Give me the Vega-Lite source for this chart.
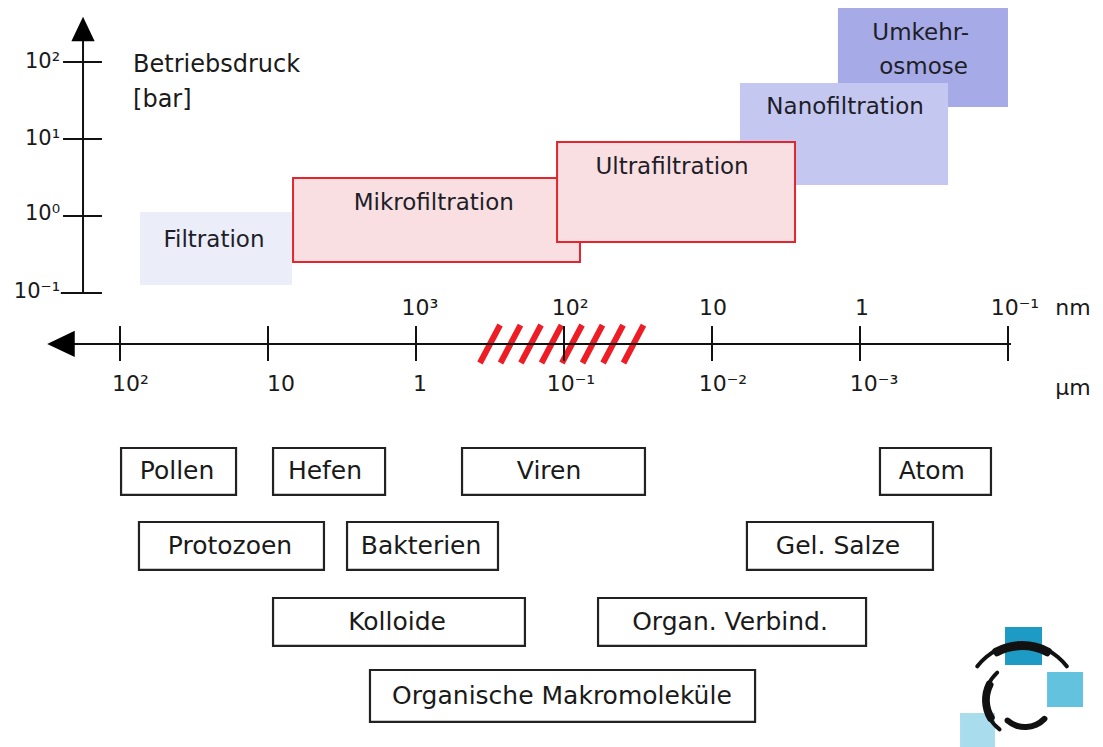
{
  "$schema": "https://vega.github.io/schema/vega-lite/v6.json",
  "width": 1103,
  "height": 747,
  "autosize": {"type": "fit", "contains": "padding"},
  "padding": 0,
  "background": "white",
  "config": {"view": {"stroke": null}, "text": {"font": "DejaVu Sans", "color": "#1a1a1a", "baseline": "middle"}},
  "datasets": {
    "regions": [
      {"name": "Filtration", "x1": 1.865, "x2": 0.838, "y1": 0.052, "y2": -0.896},
      {"name": "Umkehrosmose", "x1": -2.851, "x2": -4.0, "y1": 2.701, "y2": 1.416},
      {"name": "Nanofiltration", "x1": -2.189, "x2": -3.595, "y1": 1.727, "y2": 0.403},
      {"name": "Mikrofiltration", "x1": 0.831, "x2": -1.108, "y1": 0.494, "y2": -0.597},
      {"name": "Ultrafiltration", "x1": -0.953, "x2": -2.561, "y1": 0.961, "y2": -0.338}
    ],
    "regionLabels": [
      {"label": "Filtration", "x": 1.365, "y": -0.312},
      {"label": "Mikrofiltration", "x": -0.12, "y": 0.174},
      {"label": "Ultrafiltration", "x": -1.73, "y": 0.636},
      {"label": "Nanofiltration", "x": -2.899, "y": 1.416},
      {"label": "Umkehr-", "x": -3.41, "y": 2.377},
      {"label": "osmose", "x": -3.43, "y": 1.935}
    ],
    "stripes": [
      {"x": -0.432, "x2": -0.568, "y": -1.909, "y2": -1.416},
      {"x": -0.571, "x2": -0.706, "y": -1.909, "y2": -1.416},
      {"x": -0.709, "x2": -0.845, "y": -1.909, "y2": -1.416},
      {"x": -0.848, "x2": -0.983, "y": -1.909, "y2": -1.416},
      {"x": -0.986, "x2": -1.122, "y": -1.909, "y2": -1.416},
      {"x": -1.125, "x2": -1.26, "y": -1.909, "y2": -1.416},
      {"x": -1.264, "x2": -1.399, "y": -1.909, "y2": -1.416},
      {"x": -1.402, "x2": -1.537, "y": -1.909, "y2": -1.416}
    ],
    "lines": [
      {"x": 2.25, "x2": 2.25, "y": -1.0, "y2": 2.35},
      {"x": 2.4, "x2": -4.02, "y": -1.662, "y2": -1.662},
      {"x": 2.385, "x2": 2.122, "y": 2, "y2": 2},
      {"x": 2.385, "x2": 2.122, "y": 1, "y2": 1},
      {"x": 2.385, "x2": 2.122, "y": 0, "y2": 0},
      {"x": 2.4, "x2": 2.122, "y": -1, "y2": -1},
      {"x": 2, "x2": 2, "y": -1.429, "y2": -1.883},
      {"x": 1, "x2": 1, "y": -1.429, "y2": -1.883},
      {"x": 0, "x2": 0, "y": -1.429, "y2": -1.883},
      {"x": -1, "x2": -1, "y": -1.429, "y2": -1.883},
      {"x": -2, "x2": -2, "y": -1.429, "y2": -1.883},
      {"x": -3, "x2": -3, "y": -1.429, "y2": -1.883},
      {"x": -4, "x2": -4, "y": -1.429, "y2": -1.883}
    ],
    "arrows": [
      {"dir": "up", "x": 2.25, "y": 2.429},
      {"dir": "left", "x": 2.399, "y": -1.662}
    ],
    "pressureLabels": [
      {"label": "10²", "x": 2.405, "y": 2.0},
      {"label": "10¹", "x": 2.405, "y": 1.0},
      {"label": "10⁰", "x": 2.405, "y": 0.02},
      {"label": "10⁻¹", "x": 2.405, "y": -0.99}
    ],
    "titleLabels": [
      {"label": "Betriebsdruck", "x": 1.912, "y": 1.961},
      {"label": "[bar]", "x": 1.912, "y": 1.506}
    ],
    "sizeLabels": [
      {"label": "10²", "x": 1.929, "y": -2.182},
      {"label": "10", "x": 0.912, "y": -2.182},
      {"label": "1", "x": -0.027, "y": -2.182},
      {"label": "10⁻¹", "x": -1.047, "y": -2.182},
      {"label": "10⁻²", "x": -2.074, "y": -2.182},
      {"label": "10⁻³", "x": -3.095, "y": -2.182},
      {"label": "µm", "x": -4.439, "y": -2.234},
      {"label": "10³", "x": -0.027, "y": -1.195},
      {"label": "10²", "x": -1.041, "y": -1.195},
      {"label": "10", "x": -2.007, "y": -1.195},
      {"label": "1", "x": -3.014, "y": -1.195},
      {"label": "10⁻¹", "x": -4.047, "y": -1.195},
      {"label": "nm", "x": -4.439, "y": -1.195}
    ],
    "boxes": [
      {"label": "Pollen", "x1": 1.993, "x2": 1.216, "y1": -3.013, "y2": -3.623, "cx": 1.615, "cy": -3.318},
      {"label": "Hefen", "x1": 0.966, "x2": 0.209, "y1": -3.013, "y2": -3.623, "cx": 0.615, "cy": -3.318},
      {"label": "Viren", "x1": -0.311, "x2": -1.547, "y1": -3.013, "y2": -3.623, "cx": -0.899, "cy": -3.318},
      {"label": "Atom", "x1": -3.135, "x2": -3.885, "y1": -3.013, "y2": -3.623, "cx": -3.486, "cy": -3.318},
      {"label": "Protozoen", "x1": 1.872, "x2": 0.622, "y1": -3.974, "y2": -4.597, "cx": 1.257, "cy": -4.286},
      {"label": "Bakterien", "x1": 0.466, "x2": -0.554, "y1": -3.974, "y2": -4.597, "cx": -0.034, "cy": -4.286},
      {"label": "Gel. Salze", "x1": -2.236, "x2": -3.493, "y1": -3.974, "y2": -4.597, "cx": -2.851, "cy": -4.286},
      {"label": "Kolloide", "x1": 0.966, "x2": -0.736, "y1": -4.961, "y2": -5.584, "cx": 0.128, "cy": -5.273},
      {"label": "Organ. Verbind.", "x1": -1.23, "x2": -3.041, "y1": -4.961, "y2": -5.584, "cx": -2.122, "cy": -5.273},
      {"label": "Organische Makromoleküle", "x1": 0.311, "x2": -2.291, "y1": -5.896, "y2": -6.571, "cx": -0.986, "cy": -6.234}
    ],
    "logoSquares": [
      {"name": "a", "x1": -3.98, "x2": -4.23, "y1": -5.338, "y2": -5.831},
      {"name": "b", "x1": -4.264, "x2": -4.507, "y1": -5.922, "y2": -6.377},
      {"name": "c", "x1": -3.676, "x2": -3.912, "y1": -6.455, "y2": -6.896}
    ],
    "logoCenters": [
      {"part": "top", "x": -4.095, "y": -6.286},
      {"part": "left", "x": -4.095, "y": -6.286},
      {"part": "bottom", "x": -4.115, "y": -6.286}
    ]
  },
  "resolve": {"scale": {"color": "independent"}},
  "layer": [
    {
      "data": {"name": "regions"},
      "transform": [{"filter": {"field": "name", "oneOf": ["Filtration", "Umkehrosmose", "Nanofiltration"]}}],
      "mark": {"type": "rect"},
      "encoding": {
        "x": {"field": "x1", "type": "quantitative", "scale": {"domain": [-4.642, 2.811], "reverse": true, "nice": false, "zero": false}, "axis": null},
        "x2": {"field": "x2"},
        "y": {"field": "y1", "type": "quantitative", "scale": {"domain": [-6.896, 2.805], "nice": false, "zero": false}, "axis": null},
        "y2": {"field": "y2"},
        "color": {"field": "name", "type": "nominal", "scale": {"domain": ["Filtration", "Umkehrosmose", "Nanofiltration"], "range": ["#ebedf9", "#a6aae7", "#c4c7f0"]}, "legend": null}
      }
    },
    {
      "data": {"name": "regions"},
      "transform": [{"filter": {"field": "name", "oneOf": ["Mikrofiltration", "Ultrafiltration"]}}],
      "mark": {"type": "rect", "fill": "#f9dfe2", "stroke": "#e3262e", "strokeWidth": 2},
      "encoding": {
        "x": {"field": "x1", "type": "quantitative", "scale": {"domain": [-4.642, 2.811], "reverse": true, "nice": false, "zero": false}, "axis": null},
        "x2": {"field": "x2"},
        "y": {"field": "y1", "type": "quantitative", "scale": {"domain": [-6.896, 2.805], "nice": false, "zero": false}, "axis": null},
        "y2": {"field": "y2"}
      }
    },
    {
      "data": {"name": "regionLabels"},
      "mark": {"type": "text", "fontSize": 23, "align": "center", "color": "#1e1e28"},
      "encoding": {
        "x": {"field": "x", "type": "quantitative", "scale": {"domain": [-4.642, 2.811], "reverse": true, "nice": false, "zero": false}, "axis": null},
        "y": {"field": "y", "type": "quantitative", "scale": {"domain": [-6.896, 2.805], "nice": false, "zero": false}, "axis": null},
        "text": {"field": "label"}
      }
    },
    {
      "data": {"name": "stripes"},
      "mark": {"type": "rule", "color": "#ee1c25", "strokeWidth": 6},
      "encoding": {
        "x": {"field": "x", "type": "quantitative", "scale": {"domain": [-4.642, 2.811], "reverse": true, "nice": false, "zero": false}, "axis": null},
        "x2": {"field": "x2"},
        "y": {"field": "y", "type": "quantitative", "scale": {"domain": [-6.896, 2.805], "nice": false, "zero": false}, "axis": null},
        "y2": {"field": "y2"}
      }
    },
    {
      "data": {"name": "lines"},
      "mark": {"type": "rule", "color": "#111111", "strokeWidth": 2},
      "encoding": {
        "x": {"field": "x", "type": "quantitative", "scale": {"domain": [-4.642, 2.811], "reverse": true, "nice": false, "zero": false}, "axis": null},
        "x2": {"field": "x2"},
        "y": {"field": "y", "type": "quantitative", "scale": {"domain": [-6.896, 2.805], "nice": false, "zero": false}, "axis": null},
        "y2": {"field": "y2"}
      }
    },
    {
      "data": {"name": "arrows"},
      "transform": [{"filter": "datum.dir == 'up'"}],
      "mark": {"type": "point", "shape": "M 0 -1 L 0.95 1 L -0.95 1 Z", "size": 600, "filled": true, "color": "#000000", "opacity": 1},
      "encoding": {
        "x": {"field": "x", "type": "quantitative", "scale": {"domain": [-4.642, 2.811], "reverse": true, "nice": false, "zero": false}, "axis": null},
        "y": {"field": "y", "type": "quantitative", "scale": {"domain": [-6.896, 2.805], "nice": false, "zero": false}, "axis": null}
      }
    },
    {
      "data": {"name": "arrows"},
      "transform": [{"filter": "datum.dir == 'left'"}],
      "mark": {"type": "point", "shape": "M -1 0 L 1 -0.95 L 1 0.95 Z", "size": 760, "filled": true, "color": "#000000", "opacity": 1},
      "encoding": {
        "x": {"field": "x", "type": "quantitative", "scale": {"domain": [-4.642, 2.811], "reverse": true, "nice": false, "zero": false}, "axis": null},
        "y": {"field": "y", "type": "quantitative", "scale": {"domain": [-6.896, 2.805], "nice": false, "zero": false}, "axis": null}
      }
    },
    {
      "data": {"name": "pressureLabels"},
      "mark": {"type": "text", "fontSize": 21, "align": "right"},
      "encoding": {
        "x": {"field": "x", "type": "quantitative", "scale": {"domain": [-4.642, 2.811], "reverse": true, "nice": false, "zero": false}, "axis": null},
        "y": {"field": "y", "type": "quantitative", "scale": {"domain": [-6.896, 2.805], "nice": false, "zero": false}, "axis": null},
        "text": {"field": "label"}
      }
    },
    {
      "data": {"name": "titleLabels"},
      "mark": {"type": "text", "fontSize": 24, "align": "left"},
      "encoding": {
        "x": {"field": "x", "type": "quantitative", "scale": {"domain": [-4.642, 2.811], "reverse": true, "nice": false, "zero": false}, "axis": null},
        "y": {"field": "y", "type": "quantitative", "scale": {"domain": [-6.896, 2.805], "nice": false, "zero": false}, "axis": null},
        "text": {"field": "label"}
      }
    },
    {
      "data": {"name": "sizeLabels"},
      "mark": {"type": "text", "fontSize": 22, "align": "center"},
      "encoding": {
        "x": {"field": "x", "type": "quantitative", "scale": {"domain": [-4.642, 2.811], "reverse": true, "nice": false, "zero": false}, "axis": null},
        "y": {"field": "y", "type": "quantitative", "scale": {"domain": [-6.896, 2.805], "nice": false, "zero": false}, "axis": null},
        "text": {"field": "label"}
      }
    },
    {
      "data": {"name": "boxes"},
      "mark": {"type": "rect", "fill": "white", "stroke": "#222222", "strokeWidth": 2.2},
      "encoding": {
        "x": {"field": "x1", "type": "quantitative", "scale": {"domain": [-4.642, 2.811], "reverse": true, "nice": false, "zero": false}, "axis": null},
        "x2": {"field": "x2"},
        "y": {"field": "y1", "type": "quantitative", "scale": {"domain": [-6.896, 2.805], "nice": false, "zero": false}, "axis": null},
        "y2": {"field": "y2"}
      }
    },
    {
      "data": {"name": "boxes"},
      "mark": {"type": "text", "fontSize": 25, "align": "center"},
      "encoding": {
        "x": {"field": "cx", "type": "quantitative", "scale": {"domain": [-4.642, 2.811], "reverse": true, "nice": false, "zero": false}, "axis": null},
        "y": {"field": "cy", "type": "quantitative", "scale": {"domain": [-6.896, 2.805], "nice": false, "zero": false}, "axis": null},
        "text": {"field": "label"}
      }
    },
    {
      "data": {"name": "logoSquares"},
      "mark": {"type": "rect"},
      "encoding": {
        "x": {"field": "x1", "type": "quantitative", "scale": {"domain": [-4.642, 2.811], "reverse": true, "nice": false, "zero": false}, "axis": null},
        "x2": {"field": "x2"},
        "y": {"field": "y1", "type": "quantitative", "scale": {"domain": [-6.896, 2.805], "nice": false, "zero": false}, "axis": null},
        "y2": {"field": "y2"},
        "color": {"field": "name", "type": "nominal", "scale": {"domain": ["a", "b", "c"], "range": ["#1d9bc4", "#63c3df", "#a9dcec"]}, "legend": null}
      }
    },
    {
      "data": {"name": "logoCenters"},
      "transform": [{"filter": "datum.part == 'top'"}],
      "mark": {"type": "arc", "color": "#111111", "cornerRadius": 2},
      "encoding": {
        "x": {"field": "x", "type": "quantitative", "scale": {"domain": [-4.642, 2.811], "reverse": true, "nice": false, "zero": false}, "axis": null},
        "y": {"field": "y", "type": "quantitative", "scale": {"domain": [-6.896, 2.805], "nice": false, "zero": false}, "axis": null},
        "theta": {"value": -0.96},
        "theta2": {"value": 0.96},
        "radius": {"value": 58},
        "radius2": {"value": 54}
      }
    },
    {
      "data": {"name": "logoCenters"},
      "transform": [{"filter": "datum.part == 'top'"}],
      "mark": {"type": "arc", "color": "#111111", "cornerRadius": 3},
      "encoding": {
        "x": {"field": "x", "type": "quantitative", "scale": {"domain": [-4.642, 2.811], "reverse": true, "nice": false, "zero": false}, "axis": null},
        "y": {"field": "y", "type": "quantitative", "scale": {"domain": [-6.896, 2.805], "nice": false, "zero": false}, "axis": null},
        "theta": {"value": -0.55},
        "theta2": {"value": 0.55},
        "radius": {"value": 59},
        "radius2": {"value": 50}
      }
    },
    {
      "data": {"name": "logoCenters"},
      "transform": [{"filter": "datum.part == 'left'"}],
      "mark": {"type": "arc", "color": "#111111", "cornerRadius": 2},
      "encoding": {
        "x": {"field": "x", "type": "quantitative", "scale": {"domain": [-4.642, 2.811], "reverse": true, "nice": false, "zero": false}, "axis": null},
        "y": {"field": "y", "type": "quantitative", "scale": {"domain": [-6.896, 2.805], "nice": false, "zero": false}, "axis": null},
        "theta": {"value": 3.74},
        "theta2": {"value": 5.6},
        "radius": {"value": 39},
        "radius2": {"value": 35}
      }
    },
    {
      "data": {"name": "logoCenters"},
      "transform": [{"filter": "datum.part == 'left'"}],
      "mark": {"type": "arc", "color": "#111111", "cornerRadius": 3},
      "encoding": {
        "x": {"field": "x", "type": "quantitative", "scale": {"domain": [-4.642, 2.811], "reverse": true, "nice": false, "zero": false}, "axis": null},
        "y": {"field": "y", "type": "quantitative", "scale": {"domain": [-6.896, 2.805], "nice": false, "zero": false}, "axis": null},
        "theta": {"value": 4.1},
        "theta2": {"value": 5.25},
        "radius": {"value": 40},
        "radius2": {"value": 32}
      }
    },
    {
      "data": {"name": "logoCenters"},
      "transform": [{"filter": "datum.part == 'bottom'"}],
      "mark": {"type": "arc", "color": "#111111", "cornerRadius": 3},
      "encoding": {
        "x": {"field": "x", "type": "quantitative", "scale": {"domain": [-4.642, 2.811], "reverse": true, "nice": false, "zero": false}, "axis": null},
        "y": {"field": "y", "type": "quantitative", "scale": {"domain": [-6.896, 2.805], "nice": false, "zero": false}, "axis": null},
        "theta": {"value": 2.23},
        "theta2": {"value": 3.96},
        "radius": {"value": 30},
        "radius2": {"value": 24}
      }
    }
  ]
}
